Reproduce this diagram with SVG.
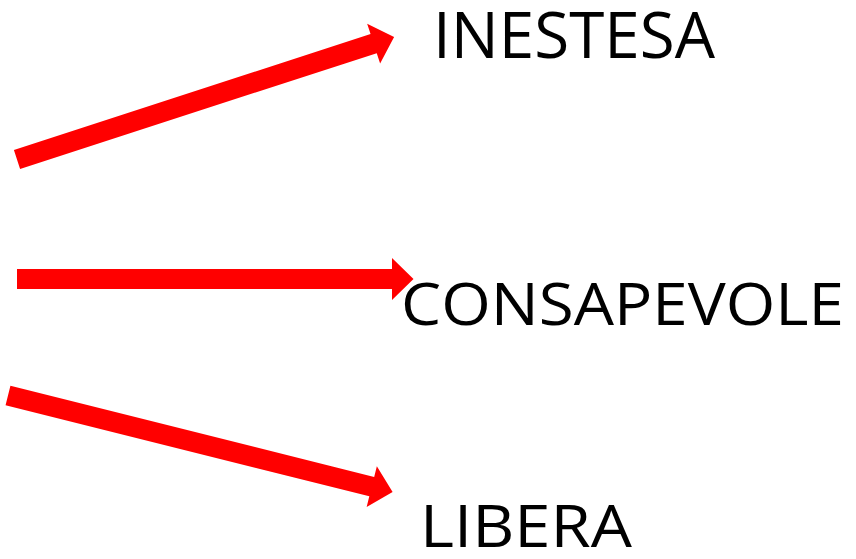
<svg xmlns="http://www.w3.org/2000/svg" xmlns:xlink="http://www.w3.org/1999/xlink" width="856" height="559" viewBox="0 0 856 559">
  <style>
    .arrow { fill: #ff0000; stroke: none; }
    .label { font-family: "Open Sans", "Liberation Sans", sans-serif; fill: #000000; }
  </style>
  <defs>
    <path id="bigArrow" d="M0,-10 L375,-10 L375,-21 L396.5,0 L375,21 L375,10 L0,10 Z"/>
  </defs>
  <rect width="856" height="559" fill="#ffffff"/>
  <g id="connectors">
    <use xlink:href="#bigArrow" class="arrow" transform="translate(17,159.5) rotate(-18)"/>
    <use xlink:href="#bigArrow" class="arrow" transform="translate(17,279)"/>
    <use xlink:href="#bigArrow" class="arrow" transform="translate(8,395.5) rotate(14.07)"/>
  </g>
  <g id="node-inestesa">
    <text class="label" x="433" y="58" font-size="64" textLength="282" lengthAdjust="spacingAndGlyphs">INESTESA</text>
  </g>
  <g id="node-consapevole">
    <text class="label" x="401" y="325" font-size="59" textLength="443" lengthAdjust="spacingAndGlyphs">CONSAPEVOLE</text>
  </g>
  <g id="node-libera">
    <text class="label" x="420" y="547" font-size="59" textLength="212" lengthAdjust="spacingAndGlyphs">LIBERA</text>
  </g>
</svg>
